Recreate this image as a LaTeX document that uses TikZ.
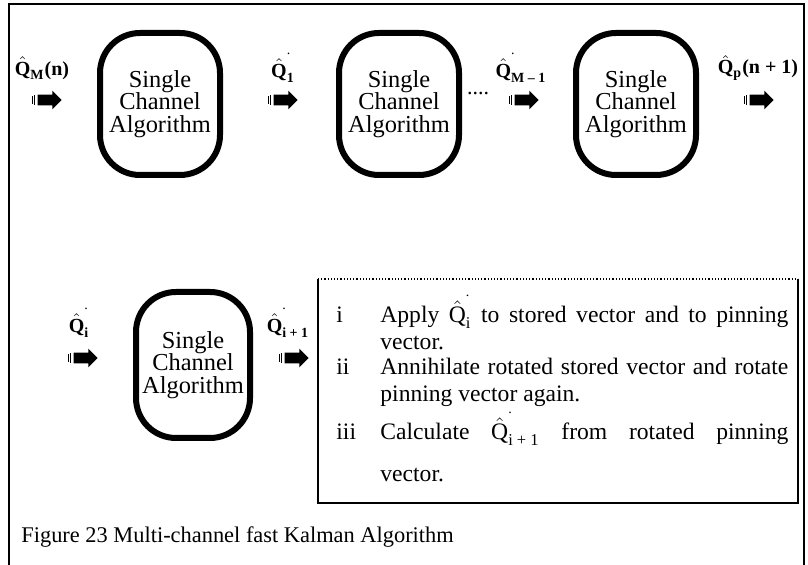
\documentclass[tikz,border=0pt]{standalone}
\usepackage{amsmath}
\usepackage{fontspec}
\setmainfont{Liberation Serif}
\usetikzlibrary{shapes.arrows}
% estimate symbols
\newcommand{\Qhat}[1]{$\hat{\text{Q}}_{\text{#1}}$}
\newcommand{\Qdot}[1]{$\hat{\text{Q}}^{\raisebox{0.45em}{\normalfont\fontsize{7}{7}\selectfont.}}_{\text{#1}}$}

\begin{document}
\begin{tikzpicture}[x=0.5pt,y=-0.5pt,
  algbox/.style={draw,line width=3pt,rounded corners=20pt,inner sep=0pt,align=center,
    minimum width=60pt,minimum height=71pt,font=\fontsize{12.2}{11.3}\selectfont},
  fatarrow/.style={single arrow,fill=black,inner xsep=0pt,inner ysep=2.5pt,
    minimum height=12pt,single arrow head extend=2pt},
  qlabel/.style={font=\bfseries\fontsize{10}{12}\selectfont,inner sep=0pt},
  steptxt/.style={font=\fontsize{11.8}{14}\selectfont,inner sep=0pt}]

  \useasboundingbox (0,0) rectangle (808,565);
  % page frame
  \draw[line width=0.8pt] (9,565) -- (9,4) -- (804,4) -- (804,565);

  % top row
  \node[algbox] (sca1) at (160,104) {Single\\Channel\\Algorithm};
  \node[algbox] (sca2) at (399,104) {Single\\Channel\\Algorithm};
  \node[algbox] (sca3) at (636,104) {Single\\Channel\\Algorithm};
  \node[qlabel] (qin)  at (42,68)  {\Qhat{M}(n)};
  \node[qlabel] (q1)   at (283,68) {\Qdot{1}};
  \node[qlabel] (qm1)  at (521,68) {\Qdot{M -- 1}};
  \node[qlabel] (qout) at (758,68) {\Qhat{p}(n + 1)};
  \node[fatarrow] (a0) at (47,100)  {};
  \node[fatarrow] (a1) at (283,100) {};
  \node[fatarrow] (a2) at (524,100) {};
  \node[fatarrow] (a3) at (759,100) {};
  \node[font=\fontsize{11}{12}\selectfont] (dots) at (478,94) {....};

  % bottom row
  \node[algbox,minimum width=57pt,minimum height=73pt] (scai) at (193,365) {Single\\Channel\\Algorithm};
  \node[qlabel] (qi)  at (79,323)  {\Qdot{i}};
  \node[qlabel] (qi1) at (288,323) {\Qdot{i + 1}};
  \node[fatarrow] (b0) at (83,358)  {};
  \node[fatarrow] (b1) at (294,358) {};

  \foreach \a in {a0,a1,a2,a3,b0,b1} {
    \draw[line width=0.5pt] ([xshift=-1.2pt]\a.tail) ++(0,-2.4pt) -- ++(0,4.8pt);
    \draw[line width=0.5pt] ([xshift=-2.4pt]\a.tail) ++(0,-2pt) -- ++(0,4pt);
  }

  % steps box
  \draw[line width=0.6pt] (318,279) -- (318,503) -- (798,503) -- (798,279);
  \draw[line width=0.6pt,densely dotted] (318,279) -- (798,279);
  \node[steptxt,anchor=base west] (li)   at (336,323) {i};
  \node[steptxt,anchor=base west] (lii)  at (336,375) {ii};
  \node[steptxt,anchor=base west] (liii) at (336,440) {iii};
  \node[steptxt,anchor=base west] (s1a) at (380,323) {\makebox[204pt][s]{Apply \Qdot{i} to stored vector and to pinning}};
  \node[steptxt,anchor=base west] (s1b) at (380,350) {vector.};
  \node[steptxt,anchor=base west] (s2a) at (380,375) {\makebox[204pt][s]{Annihilate rotated stored vector and rotate}};
  \node[steptxt,anchor=base west] (s2b) at (380,402) {pinning vector again.};
  \node[steptxt,anchor=base west] (s3a) at (380,440) {\makebox[204pt][s]{Calculate \Qdot{i + 1} from rotated pinning}};
  \node[steptxt,anchor=base west] (s3b) at (380,482) {vector.};

  % caption
  \node[anchor=west,inner sep=0pt,font=\fontsize{11.2}{13}\selectfont] (cap) at (21,537) {Figure 23 Multi-channel fast Kalman Algorithm};
\end{tikzpicture}
\end{document}
